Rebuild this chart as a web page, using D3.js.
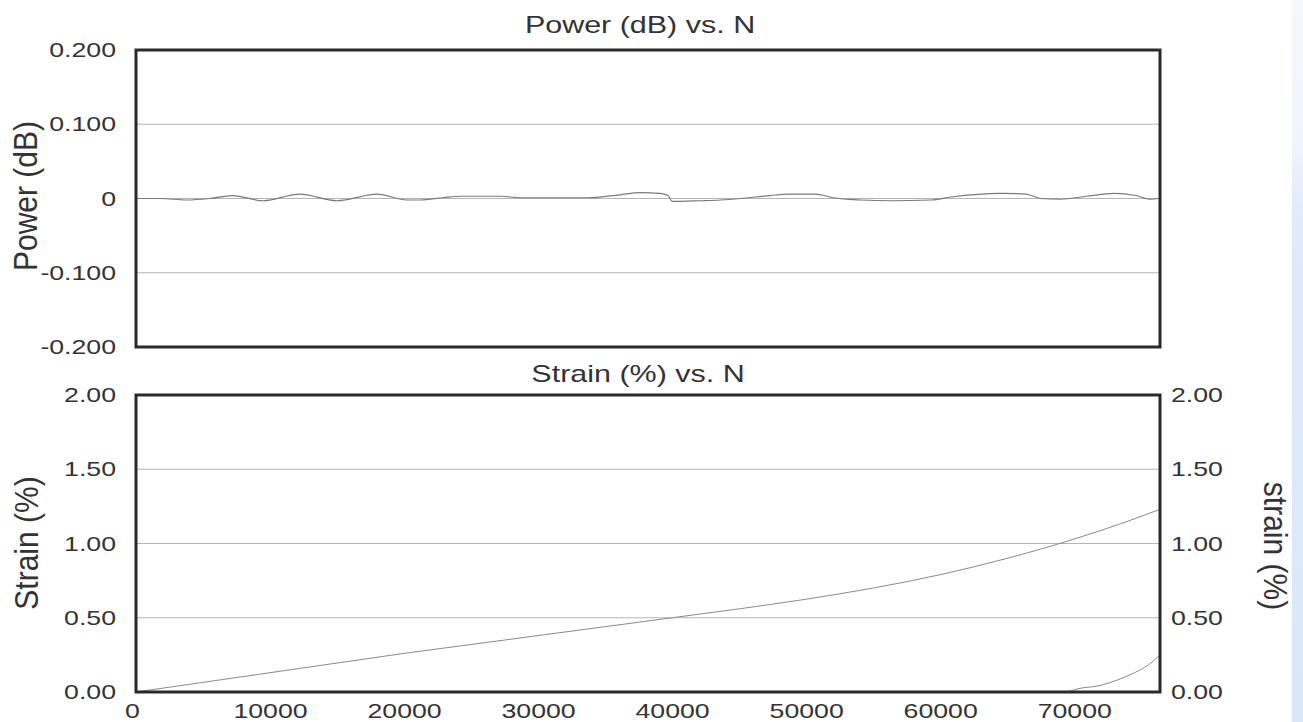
<!DOCTYPE html>
<html>
<head>
<meta charset="utf-8">
<script src="https://cdn.jsdelivr.net/npm/d3@7"></script>
<style>
  body { margin: 0; background: #fff; }
  svg { display: block; font-family: "Liberation Sans", Arial, sans-serif; }
</style>
</head>
<body>
<div id="chart"></div>
<script>
// data
const powerN  = [0, 1800, 3800, 5500, 7200, 9500, 12200, 15000, 18000, 20200, 21200, 22900, 24200, 27200, 28700, 33700, 36100, 37600, 39100, 39700, 40000, 42100, 43600, 45100, 47300, 48800, 50700, 52000, 54100, 56300, 59300, 60800, 64500, 66400, 67500, 69000, 70900, 73000, 74600, 75700, 76300]
const powerDb = [0, 0, -0.002, 0, 0.004, -0.003, 0.006, -0.003, 0.006, -0.002, -0.002, 0.001, 0.003, 0.003, 0.001, 0.001, 0.005, 0.008, 0.007, 0.004, -0.004, -0.003, -0.002, 0, 0.004, 0.006, 0.006, 0.001, -0.002, -0.003, -0.002, 0.002, 0.007, 0.006, 0, -0.001, 0.003, 0.007, 0.004, -0.001, 0]

const strainN   = [0, 5000, 10000, 15000, 20000, 25000, 30000, 35000, 40000, 45000, 50000, 55000, 60000, 65000, 70000, 74000, 76400]
const strainPct = [0, 0.065, 0.13, 0.195, 0.26, 0.32, 0.38, 0.44, 0.50, 0.56, 0.625, 0.70, 0.79, 0.90, 1.03, 1.15, 1.23]

const strain2N   = [69500, 70200, 72000, 73200, 74500, 75500, 76400]
const strain2Pct = [0, 0.02, 0.045, 0.08, 0.13, 0.18, 0.25]

const xTicks = [0, 10000, 20000, 30000, 40000, 50000, 60000, 70000]
const powerTicks = [-0.2, -0.1, 0, 0.1, 0.2]
const strainTicks = [0, 0.5, 1, 1.5, 2]

// const
const width = 1303
const height = 722
const stretch = 1.27
const left = 136, right = 1160
const top1 = 50, bot1 = 347
const top2 = 395, bot2 = 692

const svg = d3.select("#chart").append("svg")
    .attr("width", width)
    .attr("height", height)

// blue strip on the right edge
const grad = svg.append("defs").append("linearGradient")
    .attr("id", "strip").attr("x1", 0).attr("x2", 0).attr("y1", 0).attr("y2", 1)
grad.append("stop").attr("offset", "0").attr("stop-color", "#f6f8fc")
grad.append("stop").attr("offset", "0.2").attr("stop-color", "#f0f4fc")
grad.append("stop").attr("offset", "0.3").attr("stop-color", "#dfeafb")
grad.append("stop").attr("offset", "1").attr("stop-color", "#dae7fb")
svg.append("rect").attr("x", 1292).attr("y", 0).attr("width", 11).attr("height", height)
    .attr("fill", "url(#strip)")

const x = d3.scaleLinear().domain([0, 76400]).range([left, right])
const yP = d3.scaleLinear().domain([-0.2, 0.2]).range([bot1, top1])
const yS = d3.scaleLinear().domain([0, 2]).range([bot2, top2])

// stretch tick text horizontally, like the scanned original
function stretchText(g) {
    g.selectAll("text").each(function () {
        const t = d3.select(this)
        const tx = +t.attr("x") || 0
        const ty = +t.attr("y") || 0
        t.attr("x", 0).attr("y", 0)
         .attr("transform", `translate(${tx},${ty}) scale(${stretch},1)`)
    })
}

function styleAxis(g) {
    g.select(".domain").remove()
    g.selectAll("line").remove()
    g.selectAll("text").attr("fill", "#333").attr("font-size", 21)
        .attr("font-family", "Liberation Sans, Arial, sans-serif")
}

// gridlines
svg.append("g").selectAll("line")
    .data([-0.1, 0, 0.1]).join("line")
    .attr("x1", left).attr("x2", right)
    .attr("y1", d => yP(d)).attr("y2", d => yP(d))
    .attr("stroke", "#b4b4b4").attr("stroke-width", 1)
svg.append("g").selectAll("line")
    .data([0.5, 1, 1.5]).join("line")
    .attr("x1", left).attr("x2", right)
    .attr("y1", d => yS(d)).attr("y2", d => yS(d))
    .attr("stroke", "#b4b4b4").attr("stroke-width", 1)

// lines
const powerData = powerN.map((n, i) => ({ n, v: powerDb[i] }))
const strainData = strainN.map((n, i) => ({ n, v: strainPct[i] }))
const strain2Data = strain2N.map((n, i) => ({ n, v: strain2Pct[i] }))

svg.append("path").datum(powerData)
    .attr("fill", "none").attr("stroke", "#7a7a7a").attr("stroke-width", 1.2)
    .attr("d", d3.line().curve(d3.curveMonotoneX).x(d => x(d.n)).y(d => yP(d.v)))

svg.append("path").datum(strainData)
    .attr("fill", "none").attr("stroke", "#8a8a8a").attr("stroke-width", 1)
    .attr("d", d3.line().curve(d3.curveMonotoneX).x(d => x(d.n)).y(d => yS(d.v)))

svg.append("path").datum(strain2Data)
    .attr("fill", "none").attr("stroke", "#8a8a8a").attr("stroke-width", 1)
    .attr("d", d3.line().curve(d3.curveMonotoneX).x(d => x(d.n)).y(d => yS(d.v)))

// frames
svg.append("rect").attr("x", left).attr("y", top1)
    .attr("width", right - left).attr("height", bot1 - top1)
    .attr("fill", "none").attr("stroke", "#2a2a2a").attr("stroke-width", 3)
svg.append("rect").attr("x", left).attr("y", top2)
    .attr("width", right - left).attr("height", bot2 - top2)
    .attr("fill", "none").attr("stroke", "#2a2a2a").attr("stroke-width", 3)

// axes (plain hyphen for negatives, as in the original)
const fmtP = d => d === 0 ? "0" : d3.format(".3f")(d).replace("\u2212", "-")
const fmtS = d3.format(".2f")

svg.append("g").attr("transform", `translate(${left},0)`)
    .call(d3.axisLeft(yP).tickValues(powerTicks).tickFormat(fmtP).tickSize(0).tickPadding(20))
    .call(styleAxis).call(stretchText)

svg.append("g").attr("transform", `translate(${left},0)`)
    .call(d3.axisLeft(yS).tickValues(strainTicks).tickFormat(fmtS).tickSize(0).tickPadding(20))
    .call(styleAxis).call(stretchText)

svg.append("g").attr("transform", `translate(${right},0)`)
    .call(d3.axisRight(yS).tickValues(strainTicks).tickFormat(fmtS).tickSize(0).tickPadding(11))
    .call(styleAxis).call(stretchText)

const xAxisGroup = svg.append("g").attr("transform", `translate(0,${bot2})`)
    .call(d3.axisBottom(x).tickValues(xTicks).tickFormat(d3.format("d")).tickSize(0).tickPadding(11))
    .call(styleAxis).call(stretchText)
xAxisGroup.select(".tick text").attr("transform", function () {
    return d3.select(this).attr("transform").replace("translate(0,", "translate(-4,")
})

// titles and labels
function label(txt, tx, ty, rot, size, sx) {
    svg.append("text")
        .attr("transform", `translate(${tx},${ty}) scale(${sx},1) rotate(${rot})`)
        .attr("text-anchor", "middle")
        .attr("dy", rot === 0 ? 0 : "0.35em")
        .attr("font-size", size)
        .attr("fill", "#333")
        .text(txt)
}
label("Power (dB) vs. N", 640, 33, 0, 24, stretch)
label("Strain (%) vs. N", 638, 382, 0, 24, stretch)
label("Power (dB)", 26, 196, -90, 30, 1.08)
label("Strain (%)", 27, 543, -90, 30, 1.08)
label("strain (%)", 1275, 546, 90, 30, 1.08)
</script>
</body>
</html>
